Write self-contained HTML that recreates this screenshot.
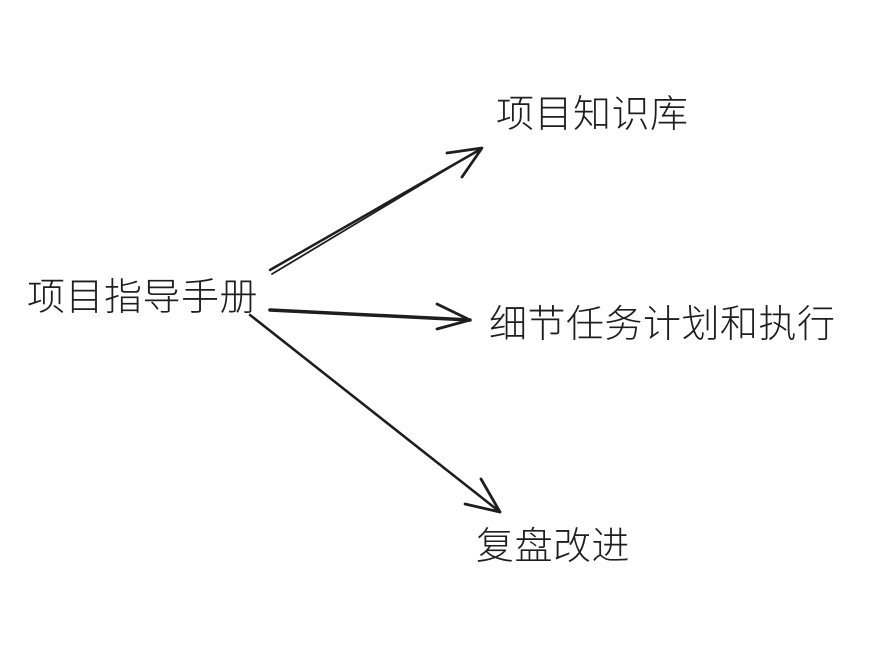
<!DOCTYPE html>
<html><head><meta charset="utf-8"><style>
html,body{margin:0;padding:0;background:#fff;}
body{width:869px;height:659px;position:relative;overflow:hidden;}
.t{position:absolute;font-family:"Liberation Sans","Noto Sans CJK SC",sans-serif;font-size:38px;letter-spacing:0.5px;color:#1e1e1e;line-height:1;white-space:nowrap;font-weight:300;}
</style></head><body>
<svg width="869" height="659" style="position:absolute;left:0;top:0" fill="none" stroke="#1e1e1e" stroke-linecap="round" stroke-linejoin="round">
<path d="M270 270 L481 149" stroke-width="2.5"/>
<path d="M272 274 L482 148" stroke-width="1.8"/>
<path d="M447 153 L482 148 L462 177" stroke-width="2.8"/>
<path d="M270 310 L470 320" stroke-width="3.5"/>
<path d="M437 304 L470 320 L437 329" stroke-width="2.8"/>
<path d="M250 315 L500 512" stroke-width="2.5"/>
<path d="M252 316 L498 510" stroke-width="1.5"/>
<path d="M481 479 L500 512 L465 504" stroke-width="2.8"/>
</svg>
<div class="t" style="left:27px;top:279px">项目指导手册</div>
<div class="t" style="left:496px;top:96px">项目知识库</div>
<div class="t" style="left:489px;top:306px">细节任务计划和执行</div>
<div class="t" style="left:476px;top:528px">复盘改进</div>
</body></html>
